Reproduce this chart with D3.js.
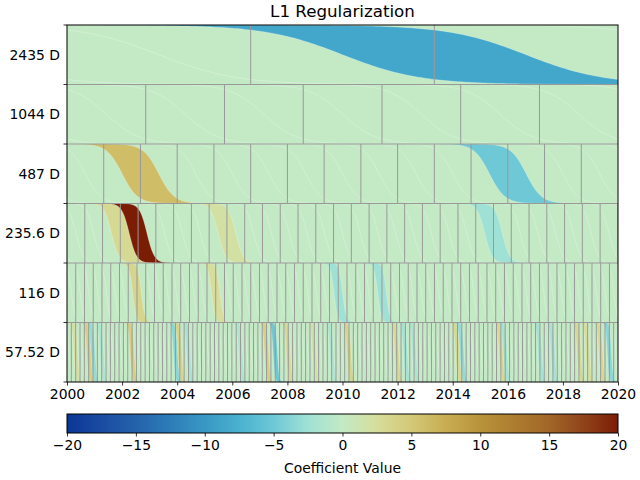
<!DOCTYPE html>
<html><head><meta charset="utf-8">
<script src="https://cdn.jsdelivr.net/npm/d3@7"></script>
<style>body{margin:0;background:#fff} svg{display:block} text{font-family:"DejaVu Sans",sans-serif;fill:#000}</style>
</head><body><svg id="c" width="640" height="480"></svg>
<script>
// ---------------- data ----------------
const rowLabels   = ["2435 D", "1044 D", "487 D", "235.6 D", "116 D", "57.52 D"];
const periodsDays = [2435, 1044, 487, 235.6, 116, 57.52];

// sparse coefficients per row: cell index and value
const idx2435 = [2],              val2435 = [-8.5];
const idx1044 = [],               val1044 = [];
const idx487  = [2, 12],          val487  = [6, -5];
const idx235  = [3, 4, 9, 24],    val235  = [3, 20, 2, -2.5];
const idx116  = [8, 17, 31, 36],  val116  = [3.5, 2.5, -2.5, -2.5];
const idx57   = [2, 5, 6, 8, 15, 25, 26, 28, 40, 46, 48, 51, 57, 61, 65, 76, 78, 80, 90, 91, 100, 101, 109, 112, 118, 120, 123, 125];
const val57   = [2, 4, -3, -1.5, 4, -3.5, 3.5, -2, -1.5, 4, -5, 3, 1.5, -1.5, 3.5, 3, -2, -1.5, 3, -3, 3, -2, -2, -2, 3, 2.5, 3, -3.5];

const xTickYears = [2000, 2002, 2004, 2006, 2008, 2010, 2012, 2014, 2016, 2018, 2020];
const cbTickVals = [-20, -15, -10, -5, 0, 5, 10, 15, 20];
const cmapVals   = [-20, -17.5, -15, -12.5, -10, -7.5, -5, -2.5, 0, 2.5, 5, 7.5, 10, 12.5, 15, 17.5, 20];
const cmapCols   = ["#0b3595", "#1a4ca2", "#2463ab", "#2d7db8", "#3898c4", "#4ab1cf", "#6ec8d6", "#a0e1d5",
                    "#c3eac4", "#d7dd9b", "#d3c877", "#c8ad52", "#b8933a", "#ad7c2f", "#a26628", "#90431a", "#7b1c04"];

const rowIdx = [idx2435, idx1044, idx487, idx235, idx116, idx57];
const rowVal = [val2435, val1044, val487, val235, val116, val57];

// ---------------- setup ----------------
const svg = d3.select("#c");
const L = 67, R = 618, T = 25, B = 382;
const x = d3.scaleLinear().domain([2000, 2020]).range([L, R]);
const y = d3.scaleBand().domain(rowLabels).range([T, B]).padding(0);
const cmap = d3.scaleLinear().domain(cmapVals).range(cmapCols).interpolate(d3.interpolateRgb).clamp(true);
const yr = d => d / 365.25;
const sig = u => 1 / (1 + Math.exp(-u));
const totalYears = 20;

const defs = svg.append("defs");

rowLabels.forEach((lab, i) => {
  const P = yr(periodsDays[i]);
  const s = 0.21 * P;
  const top = y(lab), H = y.bandwidth();
  const N = Math.ceil(totalYears / P);
  defs.append("clipPath").attr("id", "clip" + i)
    .append("rect").attr("x", L).attr("y", top).attr("width", R - L).attr("height", H);
  const g = svg.append("g").attr("clip-path", `url(#clip${i})`);
  g.append("rect").attr("x", L).attr("y", top).attr("width", R - L).attr("height", H).attr("fill", cmap(0));

  const curvePts = c => d3.range(0, 241).map(j => c - 8 * s + j * (16 * s) / 240).map(t => [t, top + H * sig((t - c) / s)]);
  const line = d3.line().x(d => x(d[0])).y(d => d[1]);

  // coloured bands
  const area = d3.area().x(d => x(d.t)).y0(d => d.y0).y1(d => d.y1);
  rowIdx[i].forEach((k, j) => {
    const tk = 2000 + k * P;
    const cL = tk - P / 2, cR = tk + P / 2;
    const pts = d3.range(0, 301).map(m => cL - 8 * s + m * (P + 16 * s) / 300).map(t => ({
      t, y0: top + H * sig((t - cR) / s), y1: top + H * sig((t - cL) / s)
    }));
    g.append("path").attr("d", area(pts)).attr("fill", cmap(rowVal[i][j]));
  });

  // faint sheared grid lines
  for (let k = -3; k <= N + 2; k++) {
    const c = 2000 + k * P + P / 2;
    g.append("path").attr("d", line(curvePts(c))).attr("fill", "none")
      .attr("stroke", "#fff").attr("stroke-opacity", 0.35).attr("stroke-width", 0.8);
  }

  // gray cell boundaries
  for (let k = 1; k <= N; k++) {
    const t = 2000 + k * P;
    if (t >= 2020 - 1e-6) continue;
    const xx = x(t);
    g.append("line").attr("x1", xx).attr("x2", xx).attr("y1", top).attr("y2", top + H)
      .attr("stroke", "#999").attr("stroke-width", 1);
  }
});

// row separators
rowLabels.slice(1).forEach(lab => {
  svg.append("line").attr("x1", L).attr("x2", R).attr("y1", y(lab)).attr("y2", y(lab))
    .attr("stroke", "#999").attr("stroke-width", 1);
});

// frame
svg.append("rect").attr("x", L).attr("y", T).attr("width", R - L).attr("height", B - T)
  .attr("fill", "none").attr("stroke", "#000").attr("stroke-width", 1);

// y axis: ticks at boundaries, labels at centres
const bounds = rowLabels.map(l => y(l)).concat([B]);
bounds.forEach(b => svg.append("line").attr("x1", L - 3.5).attr("x2", L).attr("y1", b).attr("y2", b).attr("stroke", "#000").attr("stroke-width", 0.8));
rowLabels.forEach(l => svg.append("text").attr("x", L - 7).attr("y", y(l) + y.bandwidth() / 2)
  .attr("text-anchor", "end").attr("dominant-baseline", "central").attr("font-size", "13.9px").text(l));

// x axis
const xAxis = d3.axisBottom(x).tickValues(xTickYears).tickFormat(d3.format("d")).tickSize(3.5).tickPadding(3.5);
const gx = svg.append("g").attr("transform", `translate(0,${B})`).call(xAxis);
gx.select(".domain").remove();
gx.selectAll("line").attr("stroke", "#000").attr("stroke-width", 0.8);
gx.selectAll("text").attr("font-size", "13.9px").attr("font-family", "DejaVu Sans").attr("fill", "#000");

// title
svg.append("text").attr("x", (L + R) / 2).attr("y", 17).attr("text-anchor", "middle")
  .attr("font-size", "16.7px").text("L1 Regularization");

// colorbar
const cbT = 414, cbB = 433;
const cx = d3.scaleLinear().domain([-20, 20]).range([L, R]);
const grad = defs.append("linearGradient").attr("id", "cbgrad").attr("x1", "0%").attr("x2", "100%").attr("y1", "0%").attr("y2", "0%");
d3.range(0, 81).forEach(j => {
  const v = -20 + j * 0.5;
  grad.append("stop").attr("offset", (j / 80 * 100) + "%").attr("stop-color", cmap(v));
});
svg.append("rect").attr("x", L).attr("y", cbT).attr("width", R - L).attr("height", cbB - cbT).attr("fill", "url(#cbgrad)")
  .attr("stroke", "#000").attr("stroke-width", 1);
const cbAxis = d3.axisBottom(cx).tickValues(cbTickVals).tickFormat(d => d < 0 ? "\u2212" + Math.abs(d) : String(d)).tickSize(3.5).tickPadding(3.5);
const gcb = svg.append("g").attr("transform", `translate(0,${cbB})`).call(cbAxis);
gcb.select(".domain").remove();
gcb.selectAll("line").attr("stroke", "#000").attr("stroke-width", 0.8);
gcb.selectAll("text").attr("font-size", "13.9px").attr("font-family", "DejaVu Sans").attr("fill", "#000");
svg.append("text").attr("x", (L + R) / 2).attr("y", 468).attr("text-anchor", "middle").attr("dominant-baseline", "central")
  .attr("font-size", "13.9px").text("Coefficient Value");
</script></body></html>
